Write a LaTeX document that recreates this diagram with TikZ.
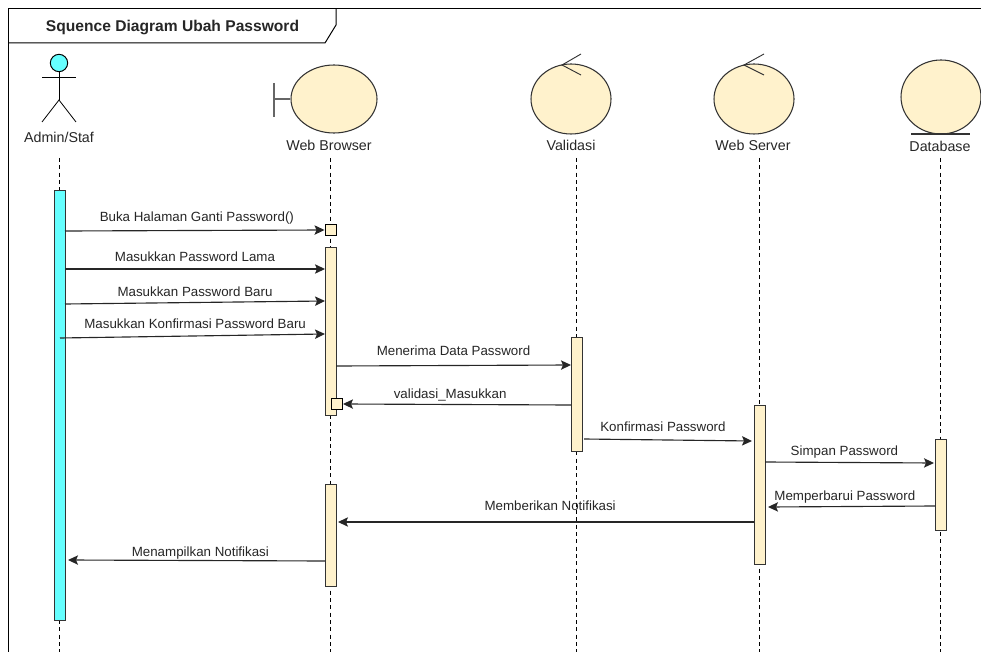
\documentclass[tikz,border=0pt]{standalone}
\usepackage{fontspec}
\setmainfont{Liberation Sans}
\usetikzlibrary{arrows.meta,shapes.geometric}
\definecolor{cream}{HTML}{FFF2CC}
\definecolor{aqua}{HTML}{66FFFF}
\definecolor{edge}{HTML}{333333}
\begin{document}
\begin{tikzpicture}[
    x=0.75pt, y=-0.75pt,
    robust/.style={ellipse, draw=edge, fill=cream, line width=0.8pt, inner sep=0pt},
    bar/.style={rectangle, draw=edge, fill=cream, line width=0.7pt, minimum width=8.25pt, inner sep=0pt},
    tick/.style={rectangle, draw=black, fill=cream, line width=0.7pt, minimum width=8.25pt, minimum height=8.25pt, inner sep=0pt},
    lifename/.style={font=\fontsize{10.7}{12}\selectfont, text=black!85, inner sep=0pt},
    lifeline/.style={draw=black, line width=0.6pt, dash pattern=on 3pt off 2.5pt},
    msg/.style={draw=black!85, line width=0.85pt, -{Stealth[length=7.5pt,width=7pt,inset=1.5pt]}},
    msgtext/.style={font=\fontsize{10}{12}\selectfont, text=black!85, inner sep=0pt}
]
    \useasboundingbox (0,0) rectangle (981,652);

    % Frame
    \coordinate (frameA) at (8,652);
    \coordinate (frameB) at (8,9);
    \coordinate (frameC) at (981,9);
    \coordinate (tabA) at (8,43);
    \coordinate (tabB) at (325,43);
    \coordinate (tabC) at (336,25);
    \coordinate (tabD) at (336,9);
    \draw[line width=0.75pt] (frameA) -- (frameB) -- (frameC);
    \draw[line width=0.75pt] (tabA) -- (tabB) -- (tabC) -- (tabD);
    \node[font=\fontsize{11.7}{14}\selectfont\bfseries, text=black!85, inner sep=0pt] (title) at (172.5,28) {Squence Diagram Ubah Password};

    % Lifelines
    \coordinate (adminTop) at (59,158);
    \coordinate (adminEnd) at (59,652);
    \coordinate (browserTop) at (330,158);
    \coordinate (browserEnd) at (330,652);
    \coordinate (validasiTop) at (576,158);
    \coordinate (validasiEnd) at (576,652);
    \coordinate (serverTop) at (759,158);
    \coordinate (serverEnd) at (759,652);
    \coordinate (dbTop) at (940,158);
    \coordinate (dbEnd) at (940,652);
    \draw[lifeline] (adminTop) -- (adminEnd);
    \draw[lifeline] (browserTop) -- (browserEnd);
    \draw[lifeline] (validasiTop) -- (validasiEnd);
    \draw[lifeline] (serverTop) -- (serverEnd);
    \draw[lifeline] (dbTop) -- (dbEnd);

    % Actor
    \node[circle, draw=black, fill=aqua, line width=0.75pt, minimum size=13pt, inner sep=0pt] (head) at (59,63) {};
    \coordinate (hip) at (59,100);
    \coordinate (armL) at (42,77);
    \coordinate (armR) at (76,77);
    \coordinate (legL) at (42,122);
    \coordinate (legR) at (76,122);
    \draw[line width=0.6pt] (head.south) -- (hip);
    \draw[line width=0.6pt] (armL) -- (armR);
    \draw[line width=0.6pt] (legL) -- (hip) -- (legR);
    \node[lifename] (adminName) at (59,137) {Admin/Staf};

    % Boundary
    \node[robust, minimum width=64.5pt, minimum height=51pt] (browser) at (334,99) {};
    \coordinate (barTop) at (274,83);
    \coordinate (barEnd) at (274,117);
    \coordinate (barMid) at (274,99);
    \draw[draw=black!60, line width=0.9pt] (barTop) -- (barEnd);
    \draw[draw=black!60, line width=0.9pt] (barMid) -- (browser.west);
    \node[lifename] (browserName) at (329,145) {Web Browser};

    % Controls
    \node[robust, minimum width=60pt, minimum height=52.5pt] (validasi) at (571,99) {};
    \coordinate (validasiUp) at (581,54);
    \coordinate (validasiTip) at (562,65);
    \coordinate (validasiDn) at (581,75);
    \draw[draw=edge, line width=0.7pt] (validasiUp) -- (validasiTip) -- (validasiDn);
    \node[lifename] (validasiName) at (571,145) {Validasi};

    \node[robust, minimum width=60pt, minimum height=52.5pt] (server) at (754,99) {};
    \coordinate (serverUp) at (764,54);
    \coordinate (serverTip) at (744,65);
    \coordinate (serverDn) at (764,75);
    \draw[draw=edge, line width=0.7pt] (serverUp) -- (serverTip) -- (serverDn);
    \node[lifename] (serverName) at (753,145) {Web Server};

    % Entity
    \node[robust, minimum width=60pt, minimum height=55.5pt] (db) at (941,97) {};
    \coordinate (dbL) at (911,134);
    \coordinate (dbR) at (970,134);
    \draw[draw=edge, line width=0.8pt] (dbL) -- (dbR);
    \node[lifename] (dbName) at (940,146) {Database};

    % Activations
    \node[bar, fill=aqua, minimum height=322.5pt] (adminBar) at (59.5,405) {};
    \node[tick] (browserTick) at (330.5,230) {};
    \node[bar, minimum height=126pt] (browserBarA) at (330.5,331) {};
    \node[tick] (browserBack) at (337,404) {};
    \node[bar, minimum height=76.5pt] (browserBarB) at (330.5,535) {};
    \node[bar, minimum height=85.5pt] (validasiBar) at (576.5,394) {};
    \node[bar, minimum height=119.25pt] (serverBar) at (759.5,484.5) {};
    \node[bar, minimum height=68.25pt] (dbBar) at (940.5,484.5) {};

    % Message ends
    \coordinate (bukaA) at (65,231);
    \coordinate (lamaA) at (65,269);
    \coordinate (lamaB) at (325,269);
    \coordinate (baruA) at (65,304);
    \coordinate (baruB) at (325,301);
    \coordinate (konfA) at (60,338);
    \coordinate (konfB) at (325,334);
    \coordinate (terimaA) at (336,366);
    \coordinate (terimaB) at (571,365);
    \coordinate (cekA) at (571,405);
    \coordinate (kirimA) at (584,439);
    \coordinate (kirimB) at (752,441);
    \coordinate (simpanA) at (765,462);
    \coordinate (simpanB) at (934,463);
    \coordinate (baruiA) at (935,506);
    \coordinate (baruiB) at (768,507);
    \coordinate (notifA) at (754,522);
    \coordinate (notifB) at (338,522);
    \coordinate (tampilA) at (325,561);
    \coordinate (tampilB) at (68,560);

    % Messages
    \draw[msg] (bukaA) -- node[msgtext, pos=0.508, above=4pt] (bukaText) {Buka Halaman Ganti Password()} (browserTick.west);
    \draw[msg] (lamaA) -- node[msgtext, above=5pt] (lamaText) {Masukkan Password Lama} (lamaB);
    \draw[msg] (baruA) -- node[msgtext, above=4pt] (baruText) {Masukkan Password Baru} (baruB);
    \draw[msg] (konfA) -- node[msgtext, pos=0.51, above=5pt] (konfText) {Masukkan Konfirmasi Password Baru} (konfB);
    \draw[msg] (terimaA) -- node[msgtext, above=7pt] (terimaText) {Menerima Data Password} (terimaB);
    \draw[msg] (cekA) -- node[msgtext, pos=0.53, above=2pt] (cekText) {validasi\_Masukkan} (browserBack.east);
    \draw[msg] (kirimA) -- node[msgtext, pos=0.47, above=5.5pt] (kirimText) {Konfirmasi Password} (kirimB);
    \draw[msg] (simpanA) -- node[msgtext, pos=0.47, above=3pt] (simpanText) {Simpan Password} (simpanB);
    \draw[msg] (baruiA) -- node[msgtext, pos=0.54, above=2pt] (baruiText) {Memperbarui Password} (baruiB);
    \draw[msg] (notifA) -- node[msgtext, pos=0.49, above=8pt] (notifText) {Memberikan Notifikasi} (notifB);
    \draw[msg] (tampilA) -- node[msgtext, pos=0.485, above=0.6pt] (tampilText) {Menampilkan Notifikasi} (tampilB);

\end{tikzpicture}
\end{document}
